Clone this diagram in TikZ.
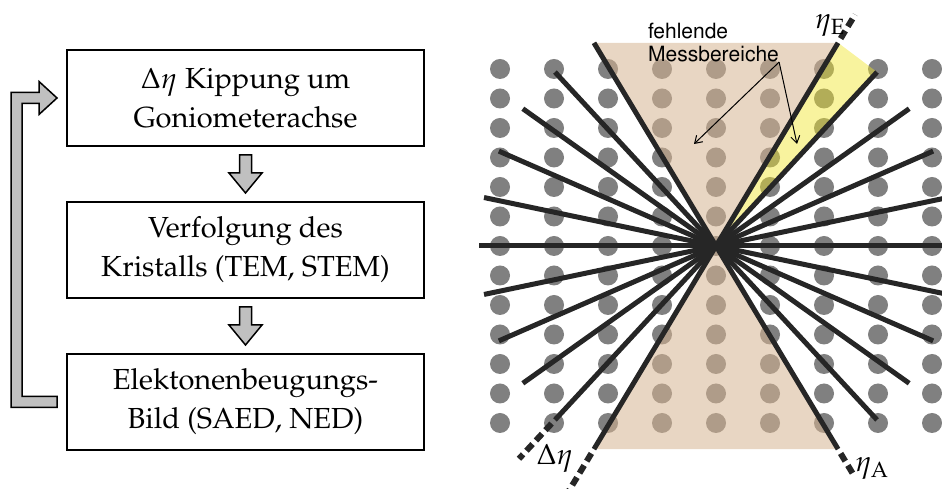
\documentclass[tikz,border=0pt]{standalone}
\usepackage[T1]{fontenc}
\usepackage{mathpazo}
\usetikzlibrary{arrows.meta,positioning,calc}

\definecolor{dotgray}{RGB}{128,128,128}
\definecolor{rayblack}{RGB}{38,38,38}
\definecolor{gapbeige}{RGB}{214,180,145}
\definecolor{gapyellow}{RGB}{240,228,40}
\definecolor{arrowgray}{RGB}{192,192,192}

\begin{document}
\begin{tikzpicture}[x=1pt,y=1pt,>={Straight Barb[length=7pt,width=9pt]},node distance=54pt]
  \tikzstyle{box}=[draw,line width=2pt,minimum width=357pt,minimum height=96pt,align=center,inner sep=0pt,font=\fontsize{29}{39}\selectfont]
  \tikzstyle{fatarrow}=[draw,line width=1.5pt,fill=arrowgray,line join=miter]
  \tikzstyle{ray}=[rayblack,line width=5pt]
  \tikzstyle{rayext}=[ray,line width=6pt,dash pattern=on 9pt off 5pt,dash phase=9pt]
  \tikzstyle{etalabel}=[font=\fontsize{29}{34}\selectfont,inner sep=0pt]
  \tikzset{fatdown/.pic={\path[fatarrow] (-6,19) -- (-6,1) -- (-16.5,1) -- (0,-19) -- (16.5,1) -- (6,1) -- (6,19) -- cycle;}}
  \useasboundingbox (0,0) rectangle (942,489);

  % Ablauf
  \node[box] (kipp) at (245.5,391) {$\Delta\eta$ Kippung um\\Goniometerachse};
  \node[box,below=of kipp] (verf) {Verfolgung des\\Kristalls (TEM, STEM)};
  \node[box,below=of verf] (bild) {Elektonenbeugungs-\\Bild (SAED, NED)};
  \pic at ($(kipp.south)!.5!(verf.north)$) {fatdown};
  \pic at ($(verf.south)!.5!(bild.north)$) {fatdown};
  % zurueck zur Kippung
  \path[fatarrow] ($(bild.west)+(-9,-5.5)$) -- ++(-46,0) |- ($(kipp.west)+(-27,5.5)$) -- ++(0,11)
    -- ($(kipp.west)+(-9,0)$) -- ++(-18,-16.5) -- ++(0,11) -- ++(-17,0) |- ($(bild.west)+(-9,5.5)$) -- cycle;

  % Reflexe
  \foreach \i in {0,...,8}
    \foreach \j in {0,...,12}
      \fill[dotgray] (500+54*\i,66+29.5*\j) circle (10pt);

  \begin{scope}[shift={(716,243)}]
    \fill[gapbeige,fill opacity=.55] (0,0) -- (121:237) -- (59:237) -- (0,0) -- (-59:237) -- (-121:237) -- cycle;
    \fill[gapyellow,fill opacity=.45] (0,0) -- (59:237) -- (47.2:237) -- cycle;
    \foreach \k in {0,...,10}
      \draw[ray] (-59+11.8*\k:237) -- (121+11.8*\k:237);
    \draw[rayext] (59:237) -- (59:270);
    \draw[rayext] (-59:237) -- (-59:270);
    \draw[rayext] (239:237) -- (239:300);
    \draw[rayext] (227.2:237) -- (227.2:290);
    \coordinate (gapL) at (-22,102);
    \coordinate (gapR) at (81,102);
  \end{scope}

  \node[etalabel] (etaE) at (830,463) {$\eta_{\mathrm{E}}$};
  \node[etalabel] (etaA) at (872,20) {$\eta_{\mathrm{A}}$};
  \node[etalabel] (deta) at (555,31) {$\Delta\eta$};

  \node[font=\fontfamily{phv}\fontsize{21}{23}\selectfont,align=left,anchor=north west,inner sep=0pt] (miss) at (648,466) {fehlende\\Messbereiche};
  \draw[->,line width=1pt] (miss.south east) -- (gapL);
  \draw[->,line width=1pt] (miss.south east) -- (gapR);
\end{tikzpicture}
\end{document}
